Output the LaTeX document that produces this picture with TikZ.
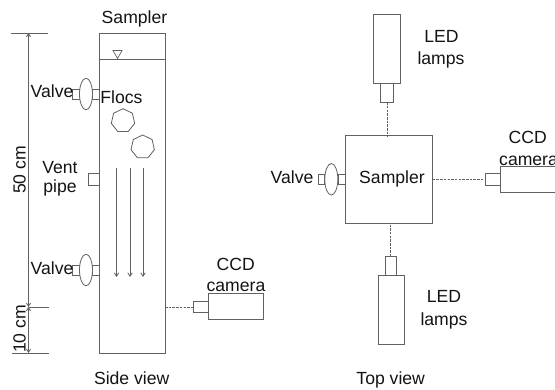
\documentclass[tikz,border=0pt]{standalone}
\usepackage{fontspec}
\setmainfont{Liberation Sans}
\usetikzlibrary{arrows.meta,shapes.geometric}
\definecolor{ln}{gray}{0.38}
\definecolor{txt}{gray}{0.08}
\tikzset{
  lbl/.style={anchor=base,inner sep=0pt,text=txt,font=\fontsize{17.6}{20}\selectfont},
  rlbl/.style={lbl,rotate=90},
  part/.style={draw=ln,line width=0.9pt,inner sep=0pt,outer sep=0pt,rectangle},
  valvebody/.style={draw=ln,line width=0.8pt,ellipse,inner sep=0pt,outer sep=0pt,minimum width=13pt,minimum height=31.5pt,fill=white},
  hepta/.style={draw=ln,line width=0.8pt,regular polygon,regular polygon sides=7,inner sep=0pt,outer sep=0pt,minimum size=24pt},
  gauge/.style={draw=ln,line width=0.9pt},
  beam/.style={draw=ln,line width=0.8pt,dash pattern=on 2.5pt off 1.2pt},
  fall/.style={draw=ln,line width=0.8pt,-{Straight Barb[length=3.5pt,width=4.5pt]}},
  dimarrow/.style={draw=ln,line width=0.9pt,{Straight Barb[length=3pt,width=4pt]}-{Straight Barb[length=3pt,width=4pt]}},
}
\newcommand{\boxat}[5]{\node[part,minimum width=#4pt-#2pt,minimum height=#5pt-#3pt,anchor=north west] (#1) at (#2,#3) {};}
\begin{document}
\begin{tikzpicture}[x=1pt,y=-1pt]
\useasboundingbox (0,0) rectangle (555,390);
\fill[white] (0,0) rectangle (555,390);

% ---- side view
\boxat{tank}{99}{33}{165}{353}
\coordinate (wl) at (99,59); \coordinate (wr) at (165,59);
\draw[gauge] (wl) -- (wr);
\coordinate (tl) at (113,50.5); \coordinate (tr) at (122,50.5); \coordinate (tb) at (117.5,58.5);
\draw[draw=ln,line width=0.7pt] (tl) -- (tr) -- (tb) -- cycle;

% dimension lines
\coordinate (d1) at (28.5,33); \coordinate (d2) at (28.5,307); \coordinate (d3) at (28.5,353);
\coordinate (t1a) at (11,33); \coordinate (t1b) at (48,33);
\coordinate (t2b) at (49,307);
\coordinate (t3a) at (12,353); \coordinate (t3b) at (49,353);
\draw[gauge] (t1a) -- (t1b);
\draw[gauge] (d2) -- (t2b);
\draw[gauge] (t3a) -- (t3b);
\draw[dimarrow] (d1) -- (d2);
\draw[dimarrow] (d2) -- (d3);

% valves side
\boxat{vua}{72.5}{89}{80}{99}
\boxat{vub}{92}{89}{99}{99}
\node[valvebody] (vu) at (86,94) {};
\boxat{vla}{72.5}{265}{80}{275.5}
\boxat{vlb}{92}{265}{99}{275.5}
\node[valvebody] (vl) at (86,270) {};
\boxat{vent}{88}{173}{99}{185}

% flocs
\node[hepta] (f1) at (123,120.7) {};
\node[hepta] (f2) at (142.7,147) {};

% settling arrows
\coordinate (a1) at (116.5,168); \coordinate (a1e) at (116.5,277);
\coordinate (a2) at (130,168); \coordinate (a2e) at (130,277);
\coordinate (a3) at (143,168); \coordinate (a3e) at (143,277);
\draw[fall] (a1) -- (a1e);
\draw[fall] (a2) -- (a2e);
\draw[fall] (a3) -- (a3e);

% camera side
\boxat{camb}{208.3}{293.7}{263.7}{319.3}
\boxat{camn}{193.3}{301.7}{208.3}{312.7}
\draw[beam] (tank.east |- camn.west) -- (camn.west);

% ---- top view
\boxat{samp}{345}{135.7}{432.7}{223.3}
\boxat{lampt}{373.3}{14.3}{400}{83.3}
\boxat{neckt}{380.7}{83.3}{393.3}{102.3}
\boxat{lampb}{378}{275.7}{404.3}{344.3}
\boxat{neckb}{385}{256.7}{396.7}{275.7}
\boxat{camtb}{500.3}{166.3}{558}{192.7}
\boxat{camtn}{485.3}{173}{500.3}{185.3}
\boxat{vta}{318.7}{174}{324.3}{184.3}
\boxat{vtb}{338.3}{174}{345}{184.3}
\node[valvebody] (vt) at (331.3,179.3) {};
\draw[beam] (neckt.south) -- (neckt.south |- samp.north);
\draw[beam] (neckb.north) -- (neckb.north |- samp.south);
\draw[beam] (samp.east |- camtn.west) -- (camtn.west);

% ---- text
\node[lbl] (tsampler) at (134.5,24) {Sampler};
\node[lbl] (tvalve1) at (52,98) {Valve};
\node[lbl] (tflocs) at (121.5,104) {Flocs};
\node[lbl] (tvent) at (60,174) {Vent};
\node[lbl] (tpipe) at (60,193) {pipe};
\node[lbl] (tvalve2) at (52,274.5) {Valve};
\node[rlbl] (t50) at (25.7,170) {50 cm};
\node[rlbl] (t10) at (25.7,329) {10 cm};
\node[lbl] (tccd1) at (235.7,271) {CCD};
\node[lbl] (tcam1) at (236,292) {camera};
\node[lbl] (tside) at (131.7,385) {Side view};
\node[lbl] (tled1) at (441.5,43) {LED};
\node[lbl] (tlamp1) at (441,64.5) {lamps};
\node[lbl] (tvalve3) at (292,184) {Valve};
\node[lbl] (tsampler2) at (392,184) {Sampler};
\node[lbl] (tccd2) at (527.7,144) {CCD};
\node[lbl,anchor=base west] (tcam2) at (499,165.5) {camera};
\node[lbl] (tled2) at (444,303) {LED};
\node[lbl] (tlamp2) at (444,325.5) {lamps};
\node[lbl] (ttop) at (390.7,385) {Top view};
\end{tikzpicture}
\end{document}
